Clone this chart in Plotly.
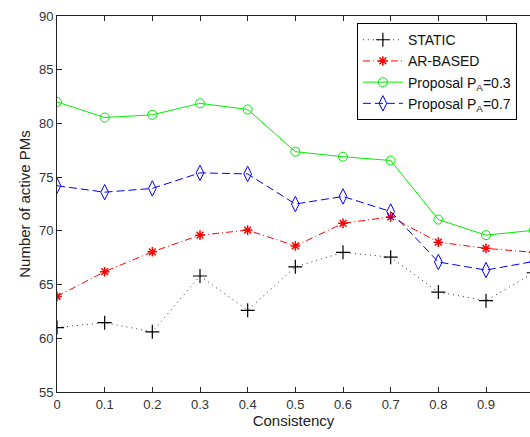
import plotly.graph_objects as go

consistency = [0, 0.1, 0.2, 0.3, 0.4, 0.5, 0.6, 0.7, 0.8, 0.9, 1.0]
static = [61.0, 61.45, 60.6, 65.8, 62.6, 66.65, 68.0, 67.55, 64.3, 63.5, 66.1]
ar_based = [63.9, 66.2, 68.05, 69.6, 70.07, 68.6, 70.7, 71.3, 68.95, 68.37, 68.0]
prop_03 = [82.0, 80.55, 80.8, 81.87, 81.3, 77.37, 76.9, 76.55, 71.05, 69.6, 70.05]
prop_07 = [74.2, 73.6, 73.95, 75.4, 75.3, 72.5, 73.2, 71.8, 67.1, 66.35, 67.15]

names = ["STATIC", "AR-BASED", "Proposal P<sub>A</sub>=0.3", "Proposal P<sub>A</sub>=0.7"]
yticks = [55, 60, 65, 70, 75, 80, 85, 90]
xticks = [0, 0.1, 0.2, 0.3, 0.4, 0.5, 0.6, 0.7, 0.8, 0.9]

fig = go.Figure()
fig.add_trace(go.Scatter(x=consistency, y=static, name=names[0], mode="lines+markers",
                         line=dict(color="#333", width=1, dash="1px,4px"),
                         marker=dict(symbol="cross-thin-open", size=10, color="black",
                                     line=dict(color="black", width=1.2))))
fig.add_trace(go.Scatter(x=consistency, y=ar_based, name=names[1], mode="lines+markers",
                         line=dict(color="red", width=1, dash="7px,3px,1px,3px"),
                         marker=dict(symbol="asterisk-open", size=8, color="red",
                                     line=dict(color="red", width=1.5))))
fig.add_trace(go.Scatter(x=consistency, y=prop_03, name=names[2], mode="lines+markers",
                         line=dict(color="#00ee00", width=1),
                         marker=dict(symbol="circle-open", size=9, color="#00ee00",
                                     line=dict(color="#00ee00", width=1))))
fig.add_trace(go.Scatter(x=consistency, y=prop_07, name=names[3], mode="lines+markers",
                         line=dict(color="blue", width=1, dash="8px,4px"),
                         marker=dict(symbol="diamond-tall-open", size=11, color="blue",
                                     line=dict(color="blue", width=1))))

fig.update_layout(
    width=530, height=437,
    margin=dict(l=57, r=0, t=16, b=45),
    paper_bgcolor="white", plot_bgcolor="white",
    font=dict(family="Liberation Sans, Arial, sans-serif", color="#222", size=13),
    showlegend=True,
    legend=dict(x=0.634, y=0.981, xanchor="left", yanchor="top",
                bgcolor="white", bordercolor="black", borderwidth=1,
                font=dict(size=14, color="#111"), tracegroupgap=0,
                itemwidth=40),
    xaxis=dict(range=[0, 0.9923], tickvals=xticks, ticktext=[str(v) for v in xticks],
               ticks="inside", ticklen=5, tickcolor="#222", showline=True, linecolor="#222",
               linewidth=1, mirror="ticks", showgrid=False, zeroline=False,
               title=dict(text="Consistency", font=dict(size=15, color="#222"), standoff=2),
               tickfont=dict(size=13, color="#333")),
    yaxis=dict(range=[55, 90], tickvals=yticks, ticks="inside", ticklen=5, tickcolor="#222",
               showline=True, linecolor="#222", linewidth=1, showgrid=False, zeroline=False,
               title=dict(text="Number of active PMs", font=dict(size=15, color="#222"), standoff=4),
               tickfont=dict(size=13, color="#333")),
)

fig.write_html("out.html")
